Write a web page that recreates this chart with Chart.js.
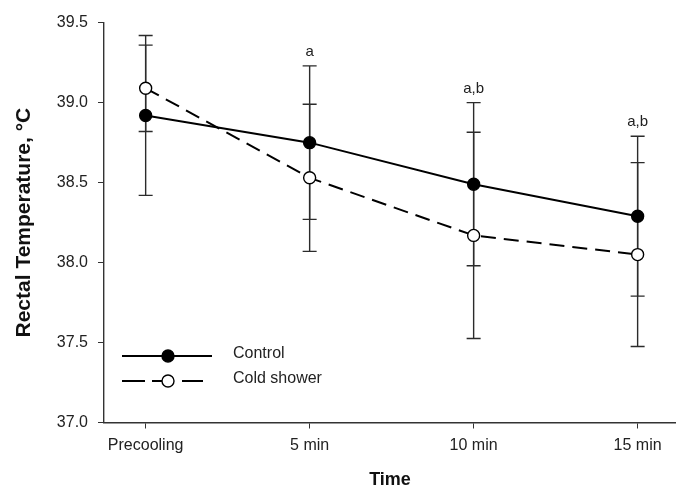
<!DOCTYPE html>
<html>
<head>
<meta charset="utf-8">
<script src="https://cdn.jsdelivr.net/npm/chart.js@4/dist/chart.umd.min.js"></script>
<style>
  html, body { margin: 0; padding: 0; background: #fff; }
  #wrap { width: 676px; height: 488px; }
</style>
</head>
<body>
<div id="wrap"><canvas id="tempChart" width="676" height="488"></canvas></div>
<script>
// data
const timePoints = ["Precooling", "5 min", "10 min", "15 min"];
const controlMean = [38.92, 38.75, 38.49, 38.29];
const controlErr = [0.50, 0.48, 0.51, 0.50];
const coldMean = [39.09, 38.53, 38.17, 38.05];
const coldErr = [0.27, 0.46, 0.645, 0.575];
const sigLabels = ["", "a", "a,b", "a,b"];
const yTicks = [37.0, 37.5, 38.0, 38.5, 39.0, 39.5];

const FONT = "'Liberation Sans', Arial, sans-serif";

// error bars, significance letters and the legend box
const errorBarPlugin = {
  id: "errorBars",
  beforeDatasetsDraw(chart) {
    const { ctx, scales: { x, y } } = chart;
    const series = [[controlMean, controlErr], [coldMean, coldErr]];
    ctx.save();
    ctx.strokeStyle = "#2b2b2b";
    ctx.lineWidth = 1.4;
    series.forEach(([mean, err]) => {
      mean.forEach((m, i) => {
        const px = x.getPixelForValue(i);
        const top = y.getPixelForValue(m + err[i]);
        const bot = y.getPixelForValue(m - err[i]);
        ctx.beginPath();
        ctx.moveTo(px, top); ctx.lineTo(px, bot);
        ctx.moveTo(px - 7, top); ctx.lineTo(px + 7, top);
        ctx.moveTo(px - 7, bot); ctx.lineTo(px + 7, bot);
        ctx.stroke();
      });
    });
    ctx.restore();
  },
  afterDatasetsDraw(chart) {
    const { ctx, scales: { x, y } } = chart;
    ctx.save();
    ctx.fillStyle = "#222";
    ctx.font = "15px " + FONT;
    ctx.textAlign = "center";
    ctx.textBaseline = "middle";
    sigLabels.forEach((lab, i) => {
      if (!lab) return;
      const hi = Math.max(controlMean[i] + controlErr[i], coldMean[i] + coldErr[i]);
      ctx.fillText(lab, x.getPixelForValue(i), y.getPixelForValue(hi) - 14);
    });

    // legend, lower left inside the plot
    const legendRows = [
      { label: "Control", segs: [[122, 212]], fill: "#000", y: 356 },
      { label: "Cold shower", segs: [[122, 145], [152, 162], [182, 203]], fill: "#fff", y: 381 }
    ];
    legendRows.forEach((row) => {
      ctx.strokeStyle = "#000";
      ctx.lineWidth = 2;
      ctx.beginPath();
      row.segs.forEach(([a, b]) => { ctx.moveTo(a, row.y); ctx.lineTo(b, row.y); });
      ctx.stroke();
      ctx.beginPath();
      ctx.arc(168, row.y, 6, 0, Math.PI * 2);
      ctx.fillStyle = row.fill;
      ctx.fill();
      ctx.lineWidth = 1.4;
      ctx.stroke();
      ctx.fillStyle = "#222";
      ctx.textAlign = "left";
      ctx.textBaseline = "middle";
      ctx.font = "16px " + FONT;
      ctx.fillText(row.label, 233, row.y - 2);
    });
    ctx.restore();
  }
};

new Chart(document.getElementById("tempChart").getContext("2d"), {
  type: "line",
  data: {
    datasets: [
      {
        label: "Control",
        data: controlMean.map((v, i) => ({ x: i, y: v })),
        borderColor: "#000",
        borderWidth: 2,
        pointRadius: 6,
        pointBackgroundColor: "#000",
        pointBorderColor: "#000",
        pointBorderWidth: 1.4,
        tension: 0
      },
      {
        label: "Cold shower",
        data: coldMean.map((v, i) => ({ x: i, y: v })),
        borderColor: "#000",
        borderWidth: 2,
        borderDash: [15, 8],
        pointRadius: 6,
        pointBackgroundColor: "#fff",
        pointBorderColor: "#000",
        pointBorderWidth: 1.4,
        tension: 0
      }
    ]
  },
  options: {
    responsive: false,
    animation: false,
    layout: { autoPadding: false, padding: { top: 22.7, right: 0, left: 0, bottom: 0 } },
    plugins: { legend: { display: false }, tooltip: { enabled: false } },
    scales: {
      x: {
        type: "linear",
        min: -0.254,
        max: 3.234,
        afterBuildTicks: (axis) => { axis.ticks = timePoints.map((t, i) => ({ value: i })); },
        afterFit: (axis) => {
          axis.height = 65.5;
          axis.paddingLeft = 0;
          axis.paddingRight = 0;
        },
        ticks: {
          callback: (v) => timePoints[v],
          color: "#222",
          font: { family: FONT, size: 16 },
          padding: 7,
          maxRotation: 0
        },
        grid: { drawOnChartArea: false, tickLength: 6, color: "#333" },
        border: { color: "#333", width: 1.4 },
        title: {
          display: true,
          text: "Time",
          color: "#111",
          font: { family: FONT, size: 18, weight: "bold" },
          padding: { top: 0, bottom: -2.5 }
        }
      },
      y: {
        min: 37,
        max: 39.5,
        afterBuildTicks: (axis) => { axis.ticks = yTicks.map((v) => ({ value: v })); },
        afterFit: (axis) => {
          axis.width = 104;
          axis.paddingTop = 0;
          axis.paddingBottom = 0;
        },
        ticks: {
          callback: (v) => v.toFixed(1),
          color: "#222",
          font: { family: FONT, size: 16 },
          padding: 10
        },
        grid: { drawOnChartArea: false, tickLength: 6, color: "#333" },
        border: { color: "#333", width: 1.4 },
        title: {
          display: true,
          text: "Rectal Temperature, °C",
          color: "#111",
          font: { family: FONT, size: 21, weight: "bold" },
          padding: { top: 12, bottom: 0 }
        }
      }
    }
  },
  plugins: [errorBarPlugin]
});
</script>
</body>
</html>
